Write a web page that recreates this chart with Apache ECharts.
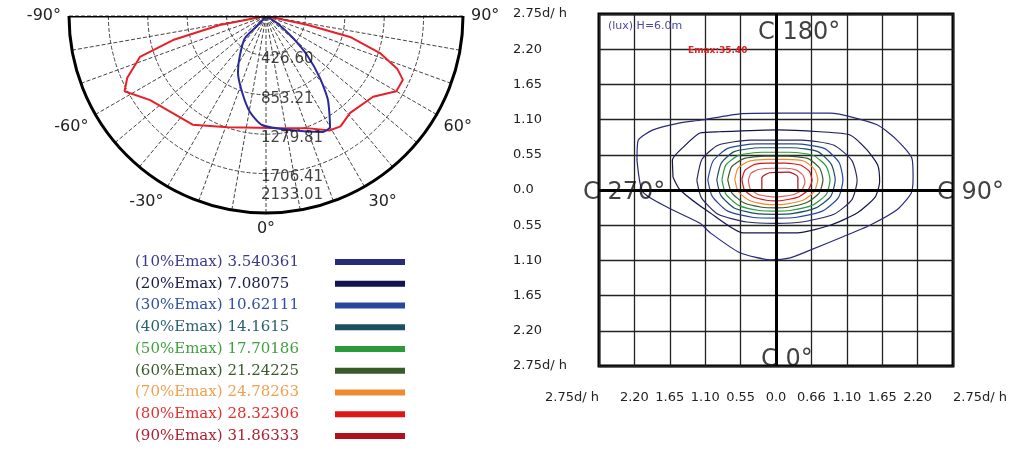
<!DOCTYPE html>
<html>
<head>
<meta charset="utf-8">
<script src="https://cdn.jsdelivr.net/npm/echarts@6/dist/echarts.min.js"></script>
<style>
  html, body { margin: 0; padding: 0; background: #fff; }
  #chart { width: 1021px; height: 453px; }
</style>
</head>
<body>
<div id="chart"></div>
<script>
// polar intensity diagram (cd)
const ringValues = [426.602, 853.204, 1279.806, 1706.408, 2133.01]
const ringLabels = ['426.60', '853.21', '1279.81', '1706.41', '2133.01']
const redAngles = [-90, -79, -75.5, -72, -66, -62, -54, -34, -19, 4, 20, 29, 34, 41, 53, 60, 65, 68, 72, 76, 78, 90]
const redValues = [0, 509, 1040, 1435, 1644, 1735, 1550, 1420, 1274, 1215, 1292, 1417, 1442, 1389, 1452, 1629, 1636, 1535, 1298, 938, 455, 0]
const blueAngles = [-45, -40.6, -43.7, -33.7, -26.6, -17.5, -9.5, -2.1, 11.9, 26.2, 30, 36.4, 41, 46.4, 50.8, 57.5, 60]
const blueValues = [0, 100, 329, 508, 678, 863, 1054, 1181, 1262, 1399, 1387, 1130, 891, 613, 377, 141, 0]

// isolux legend
const legendNames = [
  '(10%Emax) 3.540361', '(20%Emax) 7.08075', '(30%Emax) 10.62111',
  '(40%Emax) 14.1615', '(50%Emax) 17.70186', '(60%Emax) 21.24225',
  '(70%Emax) 24.78263', '(80%Emax) 28.32306', '(90%Emax) 31.86333'
]
const legendTextColors = ['#3a3a8a', '#1a1a4a', '#3050a0', '#2a6070', '#40a040', '#3a5a2a', '#f0a050', '#e03030', '#b02030']
const lineColors = ['#2a2a7a', '#141450', '#2848a0', '#1a5060', '#2a9a3a', '#3a5a2a', '#f08a30', '#e01515', '#b01020']

// isolux contours, x/y in d/h
const iso10 = [[-2.16, 0.47], [-2.14, 0.78], [-1.91, 0.94], [-1.49, 1.05], [-1.18, 1.09], [-0.56, 1.19], [0.02, 1.2], [0.84, 1.2], [1.57, 1.02], [1.88, 0.78], [2.11, 0.5], [2.13, 0.2], [2.1, -0.05], [1.88, -0.31], [1.46, -0.55], [1.04, -0.73], [0.53, -0.94], [0.22, -1.06], [-0.09, -1.09], [-0.56, -0.98], [-1.02, -0.67], [-1.18, -0.52], [-1.69, -0.27], [-2.07, -0.03], [-2.16, 0.47]]
const iso20 = [[-1.6, 0.2], [-1.61, 0.47], [-1.44, 0.67], [-1.18, 0.89], [-0.87, 0.91], [0.02, 0.94], [0.68, 0.91], [1.15, 0.86], [1.41, 0.63], [1.58, 0.39], [1.61, 0.13], [1.54, -0.11], [1.26, -0.36], [0.84, -0.55], [0.33, -0.67], [0.02, -0.67], [-0.51, -0.67], [-1.02, -0.36], [-1.49, 0.0], [-1.6, 0.2]]
const isoA = [[-1.23, 0.15], [-1.15, 0.48], [-0.9, 0.7], [-0.4, 0.78], [0.4, 0.78], [0.9, 0.7], [1.18, 0.46], [1.26, 0.15], [1.18, -0.15], [0.9, -0.38], [0.4, -0.5], [0, -0.52], [-0.45, -0.5], [-0.9, -0.38], [-1.16, -0.12], [-1.23, 0.15]]
const iso30 = [[-1.06, 0.16], [-0.98, 0.45], [-0.75, 0.65], [-0.3, 0.72], [0.3, 0.72], [0.75, 0.65], [0.98, 0.43], [1.04, 0.16], [0.97, -0.12], [0.72, -0.33], [0.3, -0.43], [0, -0.44], [-0.35, -0.43], [-0.75, -0.33], [-0.99, -0.1], [-1.06, 0.16]]
const iso40 = [[-0.92, 0.16], [-0.85, 0.42], [-0.65, 0.6], [-0.25, 0.66], [0.25, 0.66], [0.65, 0.6], [0.86, 0.4], [0.92, 0.16], [0.85, -0.1], [0.62, -0.28], [0.25, -0.37], [0, -0.38], [-0.3, -0.37], [-0.65, -0.28], [-0.86, -0.08], [-0.92, 0.16]]
const iso50 = [[-0.84, 0.16], [-0.78, 0.39], [-0.58, 0.54], [-0.22, 0.59], [0.22, 0.59], [0.58, 0.54], [0.78, 0.37], [0.84, 0.16], [0.78, -0.07], [0.56, -0.24], [0.22, -0.32], [0, -0.33], [-0.26, -0.32], [-0.58, -0.24], [-0.78, -0.06], [-0.84, 0.16]]
const iso60 = [[-0.75, 0.16], [-0.69, 0.36], [-0.5, 0.49], [-0.18, 0.53], [0.18, 0.53], [0.5, 0.49], [0.68, 0.34], [0.73, 0.16], [0.67, -0.05], [0.47, -0.2], [0.18, -0.27], [0, -0.28], [-0.22, -0.27], [-0.5, -0.2], [-0.69, -0.04], [-0.75, 0.16]]
const iso70 = [[-0.64, 0.17], [-0.59, 0.34], [-0.42, 0.45], [-0.15, 0.48], [0.15, 0.48], [0.44, 0.45], [0.6, 0.32], [0.65, 0.16], [0.59, -0.03], [0.42, -0.16], [0.15, -0.22], [0, -0.23], [-0.18, -0.22], [-0.42, -0.16], [-0.59, -0.02], [-0.64, 0.17]]
const iso80 = [[-0.53, 0.17], [-0.48, 0.31], [-0.33, 0.4], [-0.1, 0.42], [0.15, 0.42], [0.38, 0.39], [0.52, 0.29], [0.56, 0.15], [0.5, 0.0], [0.35, -0.11], [0.12, -0.16], [0, -0.17], [-0.15, -0.16], [-0.35, -0.11], [-0.49, 0.0], [-0.53, 0.17]]
const isoB = [[-0.43, 0.15], [-0.39, 0.26], [-0.27, 0.32], [-0.05, 0.34], [0.15, 0.34], [0.32, 0.31], [0.42, 0.23], [0.45, 0.12], [0.4, 0.0], [0.28, -0.07], [0.1, -0.1], [0, -0.11], [-0.12, -0.1], [-0.28, -0.07], [-0.4, 0.02], [-0.43, 0.15]]
const iso90 = [[-0.22, 0.0], [-0.22, 0.19], [-0.1, 0.27], [0.2, 0.28], [0.34, 0.2], [0.34, 0.0], [0.1, -0.01], [-0.22, 0.0]]

const xLabels = ['2.75d/ h', '2.20', '1.65', '1.10', '0.55', '0.0', '0.66', '1.10', '1.65', '2.20', '2.75d/ h']
const yLabels = ['2.75d/ h', '2.20', '1.65', '1.10', '0.55', '0.0', '0.55', '1.10', '1.65', '2.20', '2.75d/ h']
const cMarks = [[0, 2.75], [-2.75, 0], [2.75, 0], [0, -2.75]]
const cLabels = ['C 180°', 'C 270°', 'C 90°', 'C 0°']
const cLabelOffsets = [[-18, 19], [-16, 3], [-16, 3], [-15, -6]]

const chart = echarts.init(document.getElementById('chart'))

const contourSeries = [
  { name: legendNames[0], data: iso10, color: lineColors[0] },
  { name: legendNames[1], data: iso20, color: lineColors[1] },
  { name: 'extraA', data: isoA, color: '#2a2a60' },
  { name: legendNames[2], data: iso30, color: lineColors[2] },
  { name: legendNames[3], data: iso40, color: lineColors[3] },
  { name: legendNames[4], data: iso50, color: lineColors[4] },
  { name: legendNames[5], data: iso60, color: lineColors[5] },
  { name: legendNames[6], data: iso70, color: lineColors[6] },
  { name: legendNames[7], data: iso80, color: lineColors[7] },
  { name: 'extraB', data: isoB, color: '#e06060' },
  { name: legendNames[8], data: iso90, color: lineColors[8] }
].map(s => ({
  type: 'line',
  name: s.name,
  xAxisIndex: 0,
  yAxisIndex: 0,
  data: s.data,
  symbol: 'none',
  smooth: 0.2,
  silent: true,
  itemStyle: { color: s.color },
  lineStyle: { color: s.color, width: 1.2 },
  z: 3
}))

chart.setOption({
  animation: false,
  textStyle: { fontFamily: 'DejaVu Sans' },
  title: [
    { text: '(lux) H=6.0m', left: 603, top: 16, textStyle: { fontSize: 11, fontWeight: 'normal', color: '#4a4aa0' } },
    { text: 'Emax:35.40', left: 683, top: 41, textStyle: { fontSize: 9, fontWeight: 'bold', color: '#e02020' } }
  ],
  legend: {
    data: legendNames.map((n, i) => ({ name: n, textStyle: { color: legendTextColors[i] } })),
    orient: 'vertical',
    left: 130,
    top: 249,
    align: 'right',
    icon: 'rect',
    itemWidth: 70,
    itemHeight: 6,
    itemGap: 5.75,
    selectedMode: false,
    formatter: name => '{t|' + name + '}',
    textStyle: {
      fontFamily: 'DejaVu Serif',
      fontSize: 15,
      lineHeight: 16,
      rich: { t: { width: 195, align: 'left', fontFamily: 'DejaVu Serif', fontSize: 15 } }
    }
  },
  polar: { center: [266, 16], radius: 197 },
  angleAxis: {
    type: 'value',
    min: -90,
    max: 90,
    interval: 10,
    startAngle: 180,
    endAngle: 360,
    clockwise: false,
    axisLine: { lineStyle: { color: '#000', width: 3 } },
    axisTick: { show: false },
    axisLabel: {
      fontSize: 16,
      color: '#222',
      formatter: v => (v % 30 === 0 ? v + '°' : '')
    },
    splitLine: { lineStyle: { color: '#444', type: 'dashed', width: 1 } }
  },
  radiusAxis: {
    type: 'value',
    min: 0,
    max: 2133.01,
    interval: 426.602,
    axisLine: { show: false },
    axisTick: { show: false },
    axisLabel: { show: false },
    splitLine: { lineStyle: { color: '#444', type: 'dashed', width: 1 } }
  },
  grid: {
    left: 599,
    top: 14,
    width: 354,
    height: 352,
    show: true,
    borderColor: '#000',
    borderWidth: 3,
    backgroundColor: '#fff'
  },
  xAxis: {
    type: 'value',
    min: -2.75,
    max: 2.75,
    interval: 0.55,
    axisLine: { show: false },
    axisTick: { show: false },
    axisLabel: {
      margin: 25,
      fontSize: 13,
      color: '#222',
      showMinLabel: true,
      showMaxLabel: true,
      alignMinLabel: 'right',
      alignMaxLabel: 'left',
      formatter: (v, i) => xLabels[i]
    },
    splitLine: { lineStyle: { color: '#222', width: 1.3 } }
  },
  yAxis: {
    type: 'value',
    min: -2.75,
    max: 2.75,
    interval: 0.55,
    axisLine: { show: false },
    axisTick: { show: false },
    axisLabel: {
      margin: 86,
      align: 'left',
      fontSize: 13,
      color: '#222',
      showMinLabel: true,
      showMaxLabel: true,
      formatter: (v, i) => yLabels[yLabels.length - 1 - i]
    },
    splitLine: { lineStyle: { color: '#222', width: 1.3 } }
  },
  series: [
    {
      type: 'line',
      name: 'axis0-180',
      coordinateSystem: 'polar',
      data: [[2133.01, -90], [2133.01, 90]],
      symbol: 'none',
      silent: true,
      lineStyle: { color: '#000', width: 3 },
      z: 5
    },
    {
      type: 'line',
      name: 'C0-C180',
      coordinateSystem: 'polar',
      data: redAngles.map((a, i) => [redValues[i], a]),
      symbol: 'none',
      silent: true,
      lineStyle: { color: '#e8202a', width: 2 },
      z: 4
    },
    {
      type: 'line',
      name: 'C90-C270',
      coordinateSystem: 'polar',
      data: blueAngles.map((a, i) => [blueValues[i], a]),
      symbol: 'none',
      smooth: 0.2,
      silent: true,
      lineStyle: { color: '#2a2a9a', width: 2 },
      z: 4
    },
    {
      type: 'scatter',
      name: 'rings',
      coordinateSystem: 'polar',
      data: ringValues.map((v, i) => ({
        value: [v, 0],
        label: { offset: [-5, i === ringValues.length - 1 ? -18 : 4] }
      })),
      symbolSize: 0,
      silent: true,
      label: {
        show: true,
        position: 'inside',
        align: 'left',
        fontSize: 15,
        color: '#111',
        formatter: p => ringLabels[p.dataIndex]
      },
      z: 6
    },
    ...contourSeries,
    {
      type: 'line',
      name: 'centre',
      xAxisIndex: 0,
      yAxisIndex: 0,
      data: [],
      silent: true,
      markLine: {
        silent: true,
        symbol: 'none',
        label: { show: false },
        lineStyle: { color: '#000', width: 3, type: 'solid' },
        data: [{ xAxis: 0 }, { yAxis: 0 }]
      },
      z: 5
    },
    {
      type: 'scatter',
      name: 'cplanes',
      xAxisIndex: 0,
      yAxisIndex: 0,
      data: cMarks.map((p, i) => ({ value: p, label: { offset: cLabelOffsets[i] } })),
      symbolSize: 0,
      silent: true,
      label: {
        show: true,
        position: 'inside',
        align: 'left',
        fontSize: 24,
        color: '#111',
        formatter: p => cLabels[p.dataIndex]
      },
      z: 10
    }
  ]
})
</script>
</body>
</html>
